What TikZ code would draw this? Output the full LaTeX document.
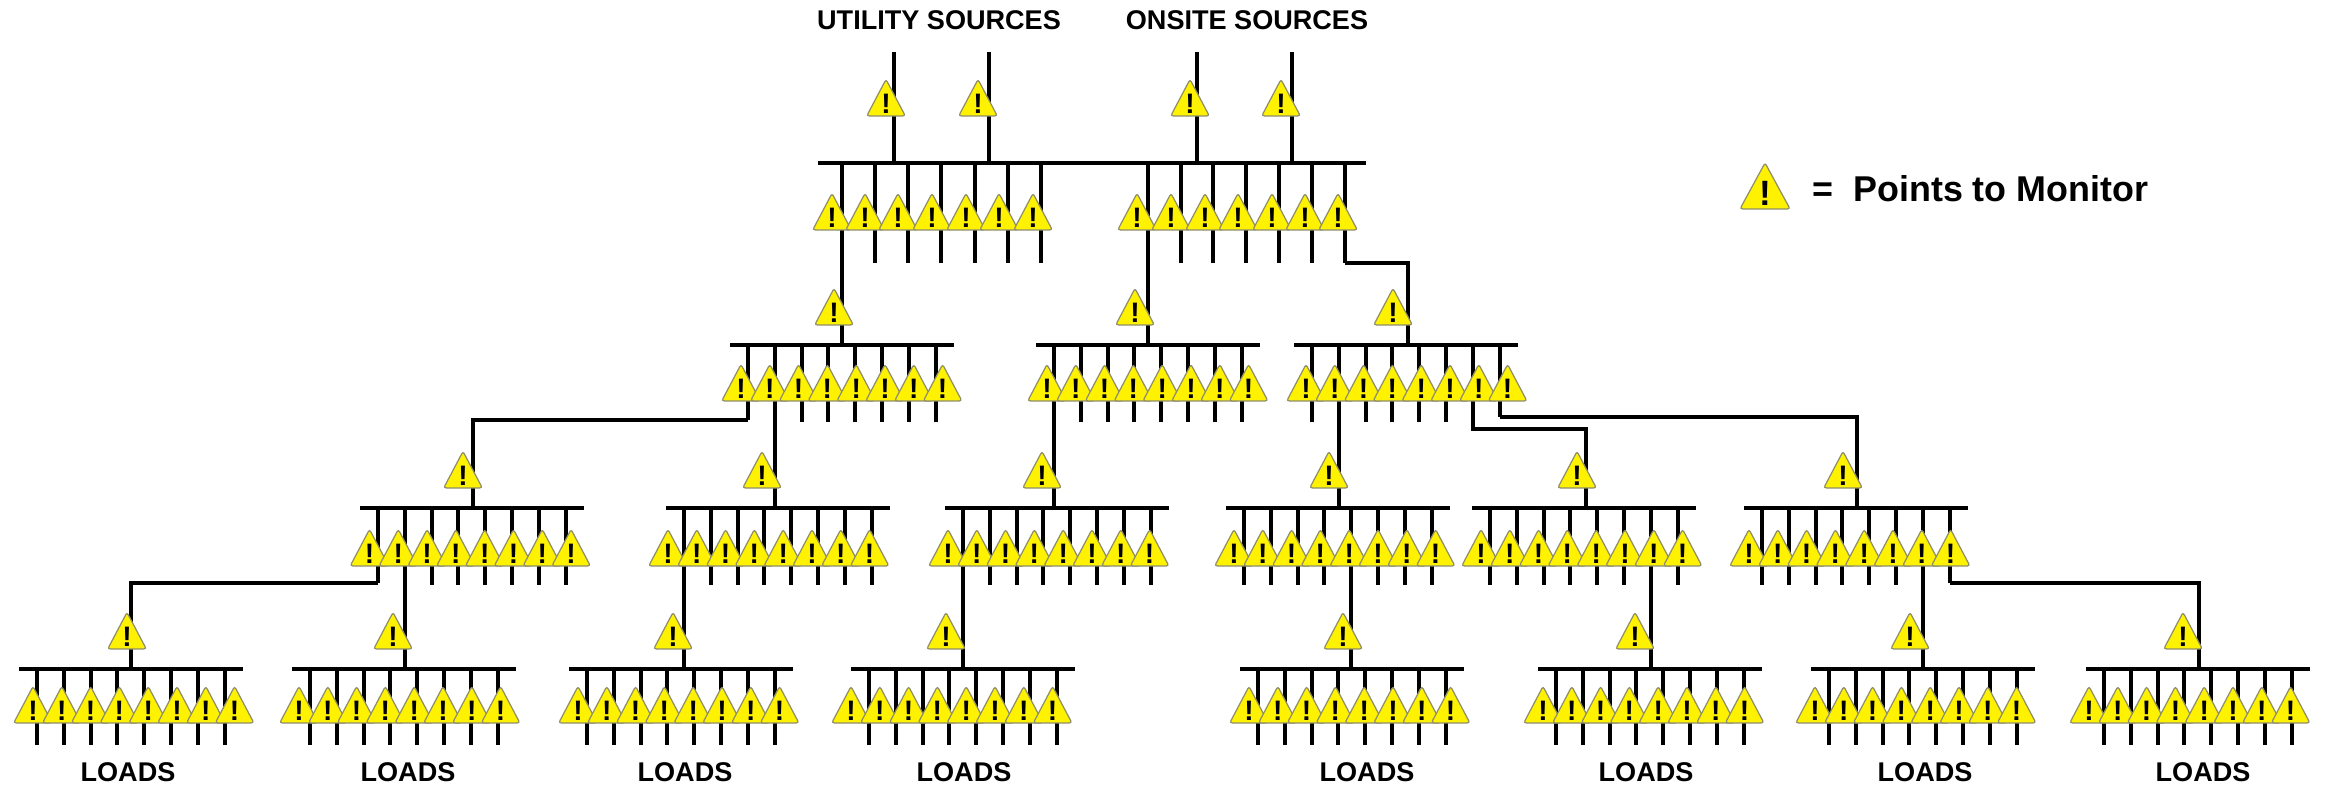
\documentclass[tikz,border=0pt]{standalone}
\usepackage{xcolor}
\usepackage{fontspec}
\setmainfont{Liberation Sans}
\usetikzlibrary{calc,shapes.geometric}
\definecolor{WYellow}{HTML}{FFF200}
\definecolor{WEdge}{HTML}{8E8E6A}
\tikzset{
  wire/.style={draw=black, line width=1.15pt},
  busbar/.style={draw=black, line width=1.3pt},
  warn/.style={isosceles triangle, shape border rotate=90, isosceles triangle stretches,
    minimum width=0.385cm, minimum height=0.365cm, inner sep=0pt, fill=WYellow, draw=WEdge,
    line width=0.35pt, rounded corners=0.7pt, anchor=lower side, text=black,
    font=\fontsize{8}{8}\selectfont\bfseries},
  heading/.style={font=\fontsize{7.7}{10}\selectfont\bfseries, text=black, inner sep=0pt}
}
\begin{document}
\begin{tikzpicture}[x=0.01cm,y=-0.01cm]
\useasboundingbox (0,0) rectangle (2325,787);
% name/left/bus y/first warning offset/drop x/drop warning x/short feeder/its end
\def\BusList{A/730/345/11/842/834/0/420, B/1036/345/11/1148/1135/-1/0, C/1294/345/12/1408/1393/7/417,
  Aa/360/508/9.5/473/463/0/583, Ab/666/508/2/774.8/762/-1/0, Ba/945/508/3/1054/1042/-1/0,
  Ca/1226/508/8/1338.8/1329/-1/0, Cb/1472/508/9/1586/1577/-1/0, Cc/1744/508/5/1857/1843/7/583,
  La/19/669/14/131/127/-1/0, Lb/292/669/7/404.8/393/-1/0, Lc/569/669/9/684/673/-1/0, Ld/851/669/0/963/946/-1/0,
  Le/1240/669/9/1351.2/1343/-1/0, Lf/1538/669/5/1650.8/1635/-1/0, Lg/1811/669/4/1922.8/1910/-1/0, Lh/2086/669/3/2199/2183/-1/0}
% main bus
\coordinate (M-l) at (818,163);
\coordinate (M-r) at (1366,163);
\draw[busbar] (M-l) -- (M-r);
\foreach \i/\sx in {0/894,1/989,2/1197,3/1292}{
  \coordinate (s\i) at (\sx,52);
  \draw[wire] (s\i) -- (s\i |- M-l);
}
\foreach \i/\fx in {0/842,1/875,2/908,3/941,4/975,5/1008,6/1041,
  7/1148,8/1181,9/1213,10/1246,11/1279,12/1312,13/1345}{
  \coordinate (M-\i) at (\fx,163);
  \coordinate (M-\i-e) at (\fx,263);
  \draw[wire] (M-\i) -- (M-\i-e);
}
% branch buses
\foreach \bus/\bx/\by/\off/\inx/\wx/\si/\sy in \BusList {
  \coordinate (\bus-l) at (\bx,\by);
  \coordinate (\bus-r) at (\bx+224,\by);
  \coordinate (\bus-in) at (\inx,\by);
  \draw[busbar] (\bus-l) -- (\bus-r);
  \foreach \i in {0,...,7}{
    \pgfmathsetmacro{\fx}{\bx+18+\i*26.8}
    \pgfmathsetmacro{\fy}{\i==\si ? \sy : \by+(\by>600 ? 76 : 77)}
    \coordinate (\bus-\i) at (\fx,\by);
    \coordinate (\bus-\i-e) at (\fx,\fy);
    \draw[wire] (\bus-\i) -- (\bus-\i-e);
  }
}
% drops
\foreach \from/\hy/\bus in {M-0/263/A, M-7/263/B, M-13/263/C,
  A-0/420/Aa, A-1/422/Ab, B-0/422/Ba, C-1/422/Ca, C-6/429/Cb, C-7/417/Cc,
  Aa-0/583/La, Aa-1/585/Lb, Ab-0/585/Lc, Ba-0/585/Ld, Ca-4/585/Le, Cb-6/585/Lf, Cc-6/585/Lg, Cc-7/583/Lh}{
  \draw[wire] (\from-e) |- (\bus-in |- 0,\hy) -- (\bus-in);
}
% warnings
\foreach \i/\wx in {0/886,1/978,2/1190,3/1281}{
  \node[warn] (ws\i) at (\wx,116.5) {!};
}
\foreach \i/\wx in {0/832,1/865,2/898,3/932,4/966,5/999,6/1033,
  7/1137,8/1171,9/1205,10/1238,11/1272,12/1305,13/1338}{
  \node[warn] (wM\i) at (\wx,230.5) {!};
}
\foreach \bus/\bx/\by/\off/\inx/\wx/\si/\sy in \BusList {
  \pgfmathsetmacro{\wy}{\by+(\by>600 ? 54.5 : (\by>400 ? 58.5 : 56.5))}
  \node[warn] (w\bus) at (\wx,\by-19.5) {!};
  \foreach \i in {0,...,7}{
    \pgfmathsetmacro{\tx}{\bx+\off+\i*28.8}
    \node[warn] (w\bus-\i) at (\tx,\wy) {!};
  }
}
% texts
\node[heading] (utility) at (939,20) {UTILITY SOURCES};
\node[heading] (onsite) at (1247,20) {ONSITE SOURCES};
\foreach \i/\lx in {0/128,1/408,2/685,3/964,4/1367,5/1646,6/1925,7/2203}{
  \node[heading] (load\i) at (\lx,772) {LOADS};
}
\node[warn, minimum width=0.5cm, minimum height=0.46cm, font=\fontsize{10}{10}\selectfont\bfseries] (legend) at (1765,209.5) {!};
\node[heading, font=\fontsize{10.2}{12}\selectfont\bfseries, anchor=west] (monitor) at (1812,189) {=\hspace{0.55em}Points to Monitor};
\end{tikzpicture}
\end{document}
